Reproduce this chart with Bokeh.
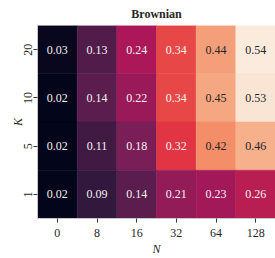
from bokeh.plotting import figure
from bokeh.models import ColumnDataSource
from bokeh.transform import linear_cmap
from bokeh.core.properties import value
from bokeh.embed import file_html
from bokeh.resources import INLINE

N_labels = ["0", "8", "16", "32", "64", "128"]
K_labels = ["20", "10", "5", "1"]
vals_K20 = [0.03, 0.13, 0.24, 0.34, 0.44, 0.54]
vals_K10 = [0.02, 0.14, 0.22, 0.34, 0.45, 0.53]
vals_K5 = [0.02, 0.11, 0.18, 0.32, 0.42, 0.46]
vals_K1 = [0.02, 0.09, 0.14, 0.21, 0.23, 0.26]
rows = {"20": vals_K20, "10": vals_K10, "5": vals_K5, "1": vals_K1}

# rocket-like palette (anchor colours, interpolated)
anchors = ["#03051a", "#35193e", "#701f57", "#ad1759", "#e13342",
           "#f37651", "#f6b48f", "#faebdd"]
def h2rgb(h):
    return [int(h[i:i + 2], 16) for i in (1, 3, 5)]
palette = []
n = 256
for i in range(n):
    t = i / (n - 1) * (len(anchors) - 1)
    k = min(int(t), len(anchors) - 2)
    f = t - k
    a, b = h2rgb(anchors[k]), h2rgb(anchors[k + 1])
    c = [round(a[j] + (b[j] - a[j]) * f) for j in range(3)]
    palette.append("#%02x%02x%02x" % tuple(c))

xs, ys, vs, labels, tcol = [], [], [], [], []
for K in K_labels:
    for N, v in zip(N_labels, rows[K]):
        xs.append(N)
        ys.append(K)
        vs.append(v)
        labels.append("%.2f" % v)
        tcol.append("#262626" if v > 0.38 else "#f2f2f2")
src = ColumnDataSource(dict(x=xs, y=ys, v=vs, label=labels, tc=tcol))
lo, hi = min(vs), max(vs)

p = figure(x_range=N_labels, y_range=list(reversed(K_labels)),
           width=275, height=258, output_backend="svg", toolbar_location=None,
           min_border_left=37, min_border_right=0, min_border_top=23,
           min_border_bottom=39)
cmap = linear_cmap("v", palette, lo, hi)
p.rect(x="x", y="y", width=1, height=1, source=src,
       fill_color=cmap, line_color=cmap, line_width=0.5)
p.text(x="x", y="y", text="label", source=src, text_color="tc",
       text_align="center", text_baseline="middle",
       text_font=value("Liberation Serif"), text_font_size="12px")

font = "Liberation Serif"
p.title.text = "Brownian"
p.title.align = "center"
p.title.text_font = font
p.title.text_font_size = "12px"
p.title.text_font_style = "bold"
p.title.text_color = "#262626"
p.title.standoff = 9
p.title.offset = 0

p.grid.visible = False
p.outline_line_color = None
p.x_range.range_padding = 0
p.y_range.range_padding = 0

for ax in (p.xaxis[0], p.yaxis[0]):
    ax.axis_line_color = "#c8c8c8"
    ax.major_tick_out = 4
    ax.major_tick_in = 0
    ax.major_tick_line_color = "#333333"
    ax.minor_tick_line_color = None
    ax.major_label_text_font = font
    ax.major_label_text_font_size = "12px"
    ax.major_label_text_color = "#262626"
    ax.axis_label_text_font = font
    ax.axis_label_text_font_size = "12px"
    ax.axis_label_text_font_style = "italic"
    ax.axis_label_text_color = "#262626"

p.xaxis.axis_label = "N"
p.xaxis.major_label_standoff = 6
p.xaxis.axis_label_standoff = 2
p.yaxis.axis_label = "K"
p.yaxis.major_label_orientation = "vertical"
p.yaxis.major_label_standoff = 2
p.yaxis.axis_label_standoff = -4

open("out.html", "w").write(file_html(p, INLINE))
